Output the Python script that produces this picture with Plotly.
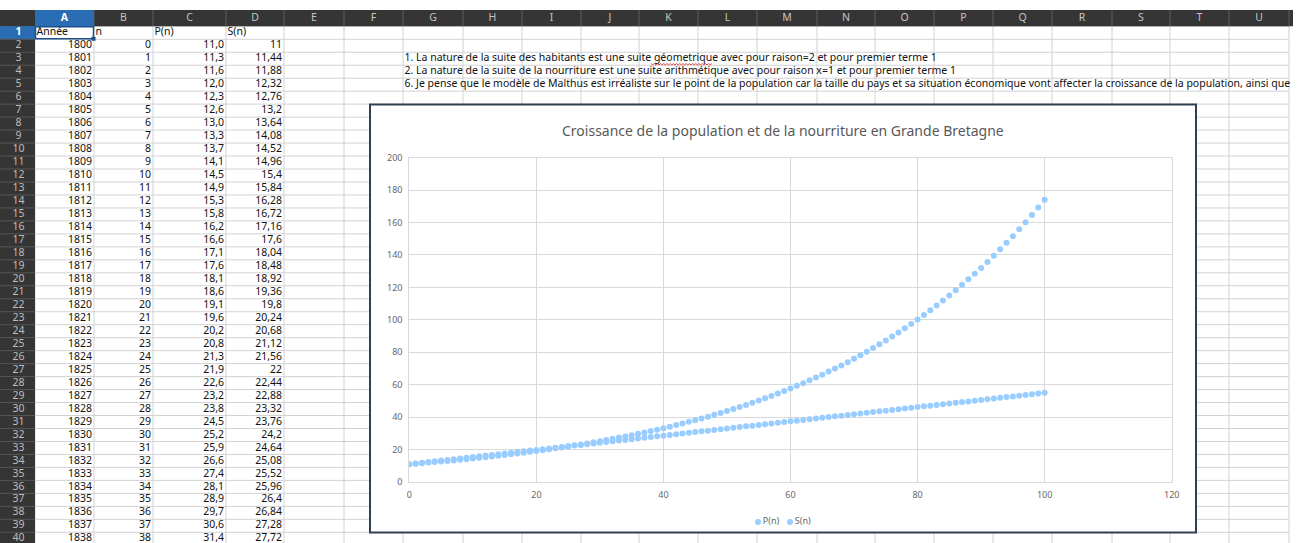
import plotly.graph_objects as go

# ---------------------------------------------------------------- data
n = list(range(101))
years = list(range(1800, 1839))

P = [11.0, 11.3, 11.6, 12.0, 12.3, 12.6, 13.0, 13.3, 13.7, 14.1,
     14.5, 14.9, 15.3, 15.8, 16.2, 16.6, 17.1, 17.6, 18.1, 18.6,
     19.1, 19.6, 20.2, 20.8, 21.3, 21.9, 22.6, 23.2, 23.8, 24.5,
     25.2, 25.9, 26.6, 27.4, 28.1, 28.9, 29.7, 30.6, 31.4, 32.3,
     33.2, 34.1, 35.1, 36.1, 37.1, 38.1, 39.2, 40.3, 41.4, 42.6,
     43.8, 45.0, 46.2, 47.5, 48.9, 50.2, 51.6, 53.1, 54.6, 56.1,
     57.7, 59.3, 60.9, 62.7, 64.4, 66.2, 68.1, 70.0, 71.9, 73.9,
     76.0, 78.1, 80.3, 82.6, 84.9, 87.3, 89.7, 92.2, 94.8, 97.5,
     100.2, 103.0, 105.9, 108.8, 111.9, 115.0, 118.2, 121.6, 125.0, 128.5,
     132.0, 135.7, 139.5, 143.5, 147.5, 151.6, 155.8, 160.2, 164.7, 169.3,
     174.0]

S = [11, 11.44, 11.88, 12.32, 12.76, 13.2, 13.64, 14.08, 14.52, 14.96,
     15.4, 15.84, 16.28, 16.72, 17.16, 17.6, 18.04, 18.48, 18.92, 19.36,
     19.8, 20.24, 20.68, 21.12, 21.56, 22, 22.44, 22.88, 23.32, 23.76,
     24.2, 24.64, 25.08, 25.52, 25.96, 26.4, 26.84, 27.28, 27.72, 28.16,
     28.6, 29.04, 29.48, 29.92, 30.36, 30.8, 31.24, 31.68, 32.12, 32.56,
     33, 33.44, 33.88, 34.32, 34.76, 35.2, 35.64, 36.08, 36.52, 36.96,
     37.4, 37.84, 38.28, 38.72, 39.16, 39.6, 40.04, 40.48, 40.92, 41.36,
     41.8, 42.24, 42.68, 43.12, 43.56, 44, 44.44, 44.88, 45.32, 45.76,
     46.2, 46.64, 47.08, 47.52, 47.96, 48.4, 48.84, 49.28, 49.72, 50.16,
     50.6, 51.04, 51.48, 51.92, 52.36, 52.8, 53.24, 53.68, 54.12, 54.56,
     55]

series_names = ["P(n)", "S(n)"]
col_letters = ["A", "B", "C", "D", "E", "F", "G", "H", "I", "J", "K",
               "L", "M", "N", "O", "P", "Q", "R", "S", "T", "U"]
header_row = ["Année", "n", "P(n)", "S(n)"]
notes = [
    "1. La nature de la suite des habitants est une suite géometrique avec pour raison=2 et pour premier terme 1",
    "2. La nature de la suite de la nourriture est une suite arithmétique avec pour raison x=1 et pour premier terme 1",
    "6. Je pense que le modèle de Malthus est irréaliste sur le point de la population car la taille du pays et sa situation économique vont affecter la croissance de la population, ainsi que",
]
chart_title = "Croissance de la population et de la nourriture en Grande Bretagne"

# ---------------------------------------------------------- sheet layout
W, H = 1306, 543
FONT = "Noto Sans"
CELL_SIZE = 10.5
col_edges = [0, 35, 94, 153, 226, 284, 344, 403, 463, 522, 581, 639, 698,
             757, 817, 875, 934, 993, 1052, 1112, 1170, 1229, 1289]
HEAD_TOP, ROW_TOP, ROW_H, N_ROWS = 10, 26.3, 12.974, 40
SHEET_RIGHT = 1293
DARK, SEL = "#353535", "#2a6db4"
GRID = "#d2d2d2"


def row_top(r):
    return ROW_TOP + (r - 1) * ROW_H


def row_mid(r):
    return row_top(r) + ROW_H / 2


def fmt_p(v):
    return f"{v:.1f}".replace(".", ",")


def fmt_s(v):
    return f"{v:g}".replace(".", ",")


shapes = []


def line(x0, y0, x1, y1, color, width=1, layer="below"):
    shapes.append(dict(type="line", xref="x", yref="y", x0=x0, y0=y0, x1=x1, y1=y1,
                       line=dict(color=color, width=width), layer=layer))


def rect(x0, y0, x1, y1, fill, lc=None, lw=0, layer="below"):
    shapes.append(dict(type="rect", xref="x", yref="y", x0=x0, y0=y0, x1=x1, y1=y1,
                       fillcolor=fill, line=dict(color=lc or fill, width=lw), layer=layer))


# cell grid
for x in col_edges[1:]:
    line(x, ROW_TOP, x, H, GRID)
for r in range(1, N_ROWS + 1):
    line(col_edges[1], row_top(r), col_edges[-1], row_top(r), GRID)

# column header band and row-number column
rect(0, HEAD_TOP, SHEET_RIGHT, ROW_TOP, DARK)
rect(0, ROW_TOP, col_edges[1], H, DARK)
rect(col_edges[1], HEAD_TOP, col_edges[2], ROW_TOP, SEL)
rect(0, row_top(1), col_edges[1], row_top(2), SEL)
for x in col_edges[2:]:
    line(x, HEAD_TOP, x, ROW_TOP, "#5e5e5e")
for r in range(2, N_ROWS + 1):
    line(0, row_top(r), col_edges[1], row_top(r), "#565656")

# selected cell A1
rect(col_edges[1] + 0.5, row_top(1) + 0.5, col_edges[2] - 0.5, row_top(2) - 0.5,
     "rgba(0,0,0,0)", lc="#1f4f8a", lw=1.5)
rect(col_edges[2] - 2.5, row_top(2) - 2.5, col_edges[2] + 1.5, row_top(2) + 1.5, "#1f4f8a")

# chart frame (white panel over the grid)
CH_X0, CH_Y0, CH_X1, CH_Y1 = 370, 104.5, 1196, 532.5
rect(CH_X0, CH_Y0, CH_X1, CH_Y1, "white", lc="#2f4150", lw=2)

# spell-check squiggle under "géometrique"
sq_x0, sq_x1, sq_y = 651, 713, 63.6
pts, k = [], 0
x = sq_x0
while x <= sq_x1:
    pts.append(f"{x},{sq_y + (1.3 if k % 2 else 0)}")
    x += 1.6
    k += 1
shapes.append(dict(type="path", xref="x", yref="y", path="M" + " L".join(pts),
                   line=dict(color="#e03030", width=0.9), layer="above"))

fig = go.Figure()


def text_trace(xs, ys, texts, pos, color="#111111", size=CELL_SIZE):
    fig.add_trace(go.Scatter(
        x=xs, y=ys, text=texts, mode="text", textposition=pos,
        textfont=dict(family=FONT, size=size, color=color),
        showlegend=False, hoverinfo="skip", xaxis="x", yaxis="y"))


# column letters
mids = [(col_edges[i] + col_edges[i + 1]) / 2 for i in range(1, len(col_edges) - 1)]
hy = (HEAD_TOP + ROW_TOP) / 2
text_trace(mids[1:], [hy] * (len(mids) - 1), col_letters[1:], "middle center", "#c4c4c4")
text_trace(mids[:1], [hy], ["<b>" + col_letters[0] + "</b>"], "middle center", "white")

# row numbers
rn_x = col_edges[1] / 2 + 1
text_trace([rn_x] * (N_ROWS - 1), [row_mid(r) for r in range(2, N_ROWS + 1)],
           [str(r) for r in range(2, N_ROWS + 1)], "middle center", "#bdbdbd")
text_trace([rn_x], [row_mid(1)], ["<b>1</b>"], "middle center", "white")

# header cells
text_trace([col_edges[c] + 1.5 for c in range(1, 5)], [row_mid(1)] * 4, header_row, "middle right")

# data cells
rows = list(range(2, 2 + len(years)))
ys = [row_mid(r) for r in rows]
cols = [[str(v) for v in years],
        [str(v) for v in n[:len(years)]],
        [fmt_p(v) for v in P[:len(years)]],
        [fmt_s(v) for v in S[:len(years)]]]
for c, texts in enumerate(cols, start=1):
    text_trace([col_edges[c + 1] - 2] * len(texts), ys, texts, "middle left")

# notes in rows 3-5
text_trace([col_edges[7] + 1.5] * 3, [row_mid(3), row_mid(4), row_mid(5)], notes, "middle right")

# ---------------------------------------------------------------- chart
MARK = "#99ccff"
for vals, name in zip([P, S], series_names):
    fig.add_trace(go.Scatter(x=n, y=vals, mode="markers", name=name, showlegend=False,
                             marker=dict(color=MARK, size=6), xaxis="x2", yaxis="y2"))

# compact legend row under the plot
fig.add_trace(go.Scatter(x=[758, 790], y=[522, 522], text=series_names,
                         mode="markers+text", textposition="middle right",
                         marker=dict(color=MARK, size=6),
                         textfont=dict(family=FONT, size=9, color="#666666"),
                         showlegend=False, hoverinfo="skip", xaxis="x", yaxis="y"))

PX0, PX1, PY0, PY1 = 409.3, 1171.7, 482.0, 157.7
tick_font = dict(family=FONT, size=9, color="#666666")
axis_common = dict(showgrid=True, gridcolor="#d9d9d9", gridwidth=1,
                   showline=True, linecolor="#d9d9d9", mirror=True, zeroline=False,
                   ticks="outside", ticklen=4, tickcolor="rgba(0,0,0,0)",
                   tickfont=tick_font, fixedrange=True, automargin=False)

fig.update_layout(
    width=W, height=H,
    margin=dict(l=0, r=0, t=0, b=0, pad=0, autoexpand=False),
    paper_bgcolor="white", plot_bgcolor="rgba(0,0,0,0)",
    shapes=shapes,
    showlegend=False,
    xaxis=dict(domain=[0, 1], range=[0, W], visible=False, fixedrange=True, automargin=False),
    yaxis=dict(domain=[0, 1], range=[H, 0], visible=False, fixedrange=True, automargin=False),
    xaxis2=dict(domain=[PX0 / W, PX1 / W], range=[0, 120], tick0=0, dtick=20,
                anchor="y2", **axis_common),
    yaxis2=dict(domain=[1 - PY0 / H, 1 - PY1 / H], range=[0, 200], tick0=0, dtick=20,
                anchor="x2", **axis_common),
    annotations=[dict(text=chart_title, xref="x", yref="y", x=(CH_X0 + CH_X1) / 2 - 0.5,
                      y=130.5, showarrow=False, xanchor="center", yanchor="middle",
                      font=dict(family=FONT, size=14, color="#595959"))],
    hovermode=False,
)

fig.write_html("out.html")
